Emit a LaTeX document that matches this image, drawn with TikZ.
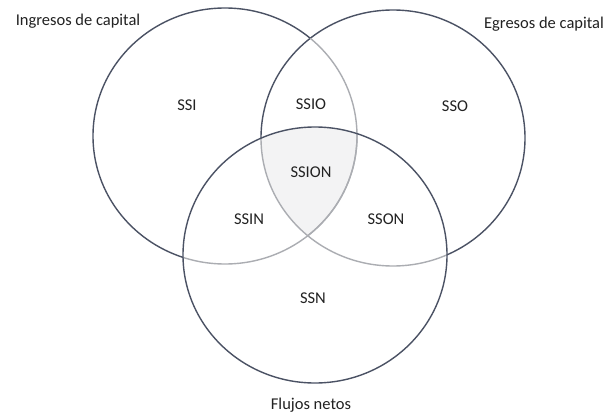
\documentclass[tikz,border=0pt]{standalone}
\usepackage{fontspec}
\setmainfont{Carlito}
\definecolor{ringdark}{HTML}{4B5264}
\definecolor{ringlight}{HTML}{ABADB2}
\definecolor{corefill}{HTML}{F3F3F4}
\definecolor{labtext}{HTML}{222222}
\begin{document}
\begin{tikzpicture}[x=1pt,y=-1pt,
  ring/.style={line width=1.4pt},
  lab/.style={font=\fontsize{16.5}{18}\selectfont, text=labtext, inner sep=0pt},
  rad/.style={x radius=132pt, y radius=128pt}]
\useasboundingbox (0,0) rectangle (610,415);
\fill[white] (0,0) rectangle (610,415);
\coordinate (cL) at (225,136);
\coordinate (cR) at (393,138);
\coordinate (cB) at (315,255);
% left ring, dark outside the others
\draw[ring, ringdark] (cL) ellipse [rad];
\fill[white] (cR) ellipse [rad];
\fill[white] (cB) ellipse [rad];
% right ring
\draw[ring, ringdark] (cR) ellipse [rad];
\fill[white] (cB) ellipse [rad];
% triple overlap shading
\begin{scope}
  \clip (cL) ellipse [rad];
  \clip (cR) ellipse [rad];
  \fill[corefill] (cB) ellipse [rad];
\end{scope}
% light inner arcs
\begin{scope}
  \clip (cR) ellipse [rad];
  \draw[ring, ringlight] (cL) ellipse [rad];
\end{scope}
\begin{scope}
  \clip (cB) ellipse [rad];
  \draw[ring, ringlight] (cL) ellipse [rad];
  \draw[ring, ringlight] (cR) ellipse [rad];
\end{scope}
% bottom ring on top
\draw[ring, ringdark] (cB) ellipse [rad];
% labels
\node[lab] (ing) at (78,21) {Ingresos de capital};
\node[lab] (egr) at (544,24) {Egresos de capital};
\node[lab] (flu) at (311,405) {Flujos netos};
\node[lab] (ssi) at (187,105) {SSI};
\node[lab] (ssio) at (311,104) {SSIO};
\node[lab] (sso) at (455,106) {SSO};
\node[lab] (ssion) at (311,172) {SSION};
\node[lab] (ssin) at (249,219) {SSIN};
\node[lab] (sson) at (386,219) {SSON};
\node[lab] (ssn) at (313,298) {SSN};
\end{tikzpicture}
\end{document}
